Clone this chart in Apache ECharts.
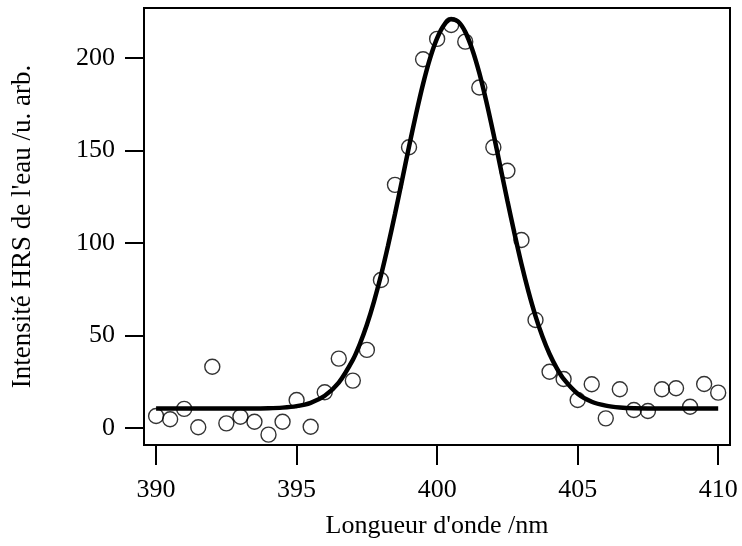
<!DOCTYPE html>
<html>
<head>
<meta charset="utf-8">
<script src="https://cdn.jsdelivr.net/npm/echarts@6/dist/echarts.min.js"></script>
<style>html,body{margin:0;padding:0;background:#fff}#c{width:742px;height:546px}</style>
</head>
<body>
<div id="c"></div>
<script>
// Measured points (wavelength nm, intensity)
var wavelengths = [390,390.5,391,391.5,392,392.5,393,393.5,394,394.5,395,395.5,396,396.5,397,397.5,398,398.5,399,399.5,400,400.5,401,401.5,402,402.5,403,403.5,404,404.5,405,405.5,406,406.5,407,407.5,408,408.5,409,409.5,410];
var intensities = [6.5,4.7,10.3,0.4,33.1,2.5,6.1,3.4,-3.6,3.4,15.1,0.7,19.3,37.5,25.6,42.2,80,131.4,151.7,199.3,210.3,217.8,208.8,184,151.7,139,101.6,58.4,30.4,26.5,15.1,23.6,5.2,20.9,9.7,9.2,20.9,21.5,11.5,23.8,19.1];
// Fitted curve
var fitX = [390,391,392,393,394,394.5,395,395.5,396,396.5,397,397.25,397.5,397.75,398,398.25,398.5,398.75,399,399.25,399.5,399.75,400,400.25,400.5,400.75,401,401.25,401.5,401.75,402,402.25,402.5,402.75,403,403.25,403.5,403.75,404,404.25,404.5,405,405.5,406,406.5,407,408,409,410];
var fitY = [10.5,10.5,10.5,10.5,10.7,11.0,11.8,13.6,17.4,24.5,36.8,45.4,55.8,68.2,82.4,98.4,115.7,133.8,152.1,169.7,186.0,199.9,210.7,217.9,220.9,219.6,214.1,204.6,191.9,176.5,159.3,141.1,122.8,105.2,88.6,73.7,60.5,49.3,40.0,32.5,26.5,18.5,14.2,12.1,11.1,10.7,10.5,10.5,10.5];
var xTicks = [390,395,400,405,410];
var yTicks = [0,50,100,150,200];

var FONT = 'Liberation Serif';
var chart = echarts.init(document.getElementById('c'), null, {renderer:'canvas'});
chart.setOption({
  animation:false,
  backgroundColor:'#fff',
  grid:{left:144,right:12,top:8,bottom:101,show:true,borderColor:'#000',borderWidth:2,backgroundColor:'transparent'},
  xAxis:{
    type:'value',min:389.57,max:410.42,
    name:"Longueur d'onde /nm",nameLocation:'middle',nameGap:68,
    nameTextStyle:{fontFamily:FONT,fontSize:26,color:'#000'},
    axisLine:{show:true,onZero:false,lineStyle:{color:'#000',width:2}},
    axisTick:{show:true,inside:false,length:20,lineStyle:{color:'#000',width:2},customValues:xTicks},
    axisLabel:{show:true,margin:32,fontFamily:FONT,fontSize:26,color:'#000',customValues:xTicks},
    splitLine:{show:false}
  },
  yAxis:{
    type:'value',min:-9.2,max:227,
    name:"Intensité HRS de l'eau /u. arb.",nameLocation:'middle',nameGap:108,
    nameTextStyle:{fontFamily:FONT,fontSize:27,color:'#000'},
    axisLine:{show:true,onZero:false,lineStyle:{color:'#000',width:2}},
    axisTick:{show:true,inside:false,length:19,lineStyle:{color:'#000',width:2},customValues:yTicks},
    axisLabel:{show:true,margin:29,fontFamily:FONT,fontSize:26,color:'#000',customValues:yTicks},
    splitLine:{show:false}
  },
  series:[
    {type:'scatter',data:wavelengths.map(function(x,i){return [x,intensities[i]];}),
     symbol:'circle',symbolSize:15,z:2,
     itemStyle:{color:'rgba(0,0,0,0)',borderColor:'#000',borderWidth:1.4}},
    {type:'line',data:fitX.map(function(x,i){return [x,fitY[i]];}),
     smooth:0.3,showSymbol:false,symbol:'none',z:3,
     lineStyle:{color:'#000',width:4.5}}
  ]
});
</script>
</body>
</html>
